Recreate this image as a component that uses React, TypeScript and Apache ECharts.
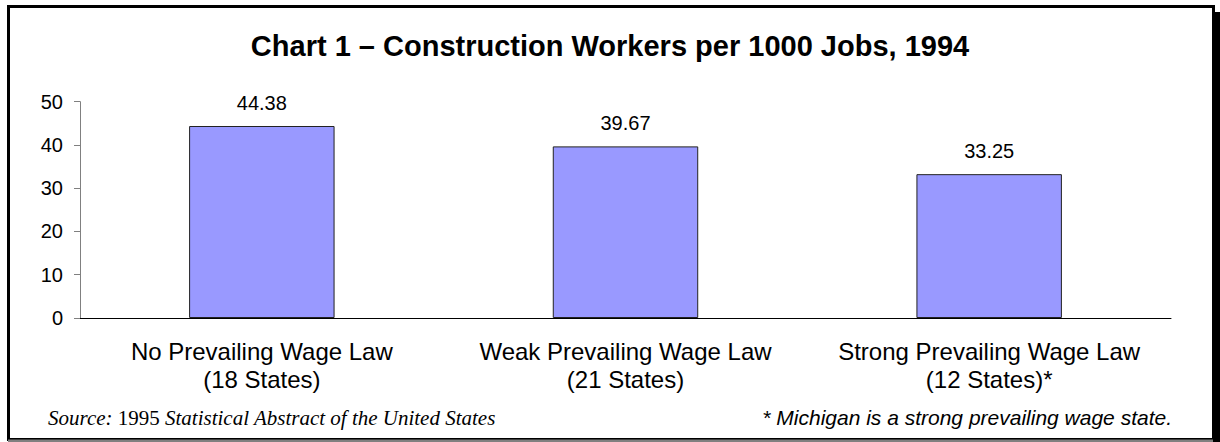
import React, { useEffect, useRef } from "react";
import * as echarts from "echarts";

const categories = [
  "No Prevailing Wage Law\n(18 States)",
  "Weak Prevailing Wage Law\n(21 States)",
  "Strong Prevailing Wage Law\n(12 States)*",
];
const values = [44.38, 39.67, 33.25];
const yTicks = [0, 10, 20, 30, 40, 50];
const title = "Chart 1 \u2013 Construction Workers per 1000 Jobs, 1994";
const noteRight = "* Michigan is a strong prevailing wage state.";

const SANS = "Arial, 'Liberation Sans', sans-serif";
const SERIF = "'Times New Roman', 'Liberation Serif', serif";

export default function App() {
  const ref = useRef<HTMLDivElement>(null);
  useEffect(() => {
    document.body.style.margin = "0";
    const chart = echarts.init(ref.current!, null, { renderer: "svg" });
    chart.setOption({
      animation: false,
      backgroundColor: "#ffffff",
      title: {
        text: title,
        left: "center",
        top: 26,
        textStyle: { fontFamily: SANS, fontWeight: "bold", fontSize: 29, color: "#000" },
      },
      grid: { left: 80, right: 49, top: 101.7, bottom: 124, containLabel: false },
      xAxis: {
        type: "category",
        data: categories,
        axisLine: { lineStyle: { color: "#000", width: 1 } },
        axisTick: { show: false },
        axisLabel: {
          interval: 0,
          margin: 19,
          fontFamily: SANS,
          fontSize: 24,
          lineHeight: 28,
          color: "#000",
        },
      },
      yAxis: {
        type: "value",
        min: yTicks[0],
        max: yTicks[yTicks.length - 1],
        interval: 10,
        splitLine: { show: false },
        axisLine: { show: true, lineStyle: { color: "#808080", width: 1 } },
        axisTick: { show: true, length: 6, lineStyle: { color: "#808080" } },
        axisLabel: {
          margin: 17,
          fontFamily: SANS,
          fontSize: 20,
          color: "#000",
        },
      },
      series: [
        {
          type: "bar",
          data: values,
          barWidth: "40%",
          itemStyle: { color: "#9999FF", borderColor: "#222", borderWidth: 1 },
          label: {
            show: true,
            position: "top",
            distance: 13,
            formatter: (p: any) => p.value.toFixed(2),
            fontFamily: SANS,
            fontSize: 20,
            color: "#000",
          },
        },
      ],
      graphic: [
        {
          type: "rect",
          shape: { x: 8.5, y: 6.5, width: 1205, height: 433 },
          style: { fill: "none", stroke: "#000", lineWidth: 3 },
          silent: true,
        },
        {
          type: "rect",
          shape: { x: 8, y: 439.5, width: 1205, height: 2.5 },
          style: { fill: "#808080" },
          silent: true,
        },
        {
          type: "rect",
          shape: { x: 1213, y: 12, width: 7, height: 430 },
          style: { fill: "#000" },
          silent: true,
        },
        {
          type: "text",
          left: 48,
          top: 407,
          style: {
            text: "{i|Source:} {n|1995} {i|Statistical Abstract of the United States}",
            rich: {
              i: { fontFamily: SERIF, fontStyle: "italic", fontSize: 21, fill: "#000" },
              n: { fontFamily: SERIF, fontSize: 21, fill: "#000" },
            },
            fontFamily: SERIF,
            fontSize: 21,
            fill: "#000",
          },
        },
        {
          type: "text",
          right: 48,
          top: 407,
          style: {
            text: noteRight,
            fontFamily: SANS,
            fontStyle: "italic",
            fontSize: 21,
            fill: "#000",
          },
        },
      ],
    });
    return () => chart.dispose();
  }, []);
  return <div ref={ref} style={{ position: "absolute", left: 0, top: 0, width: 1220, height: 442 }} />;
}
